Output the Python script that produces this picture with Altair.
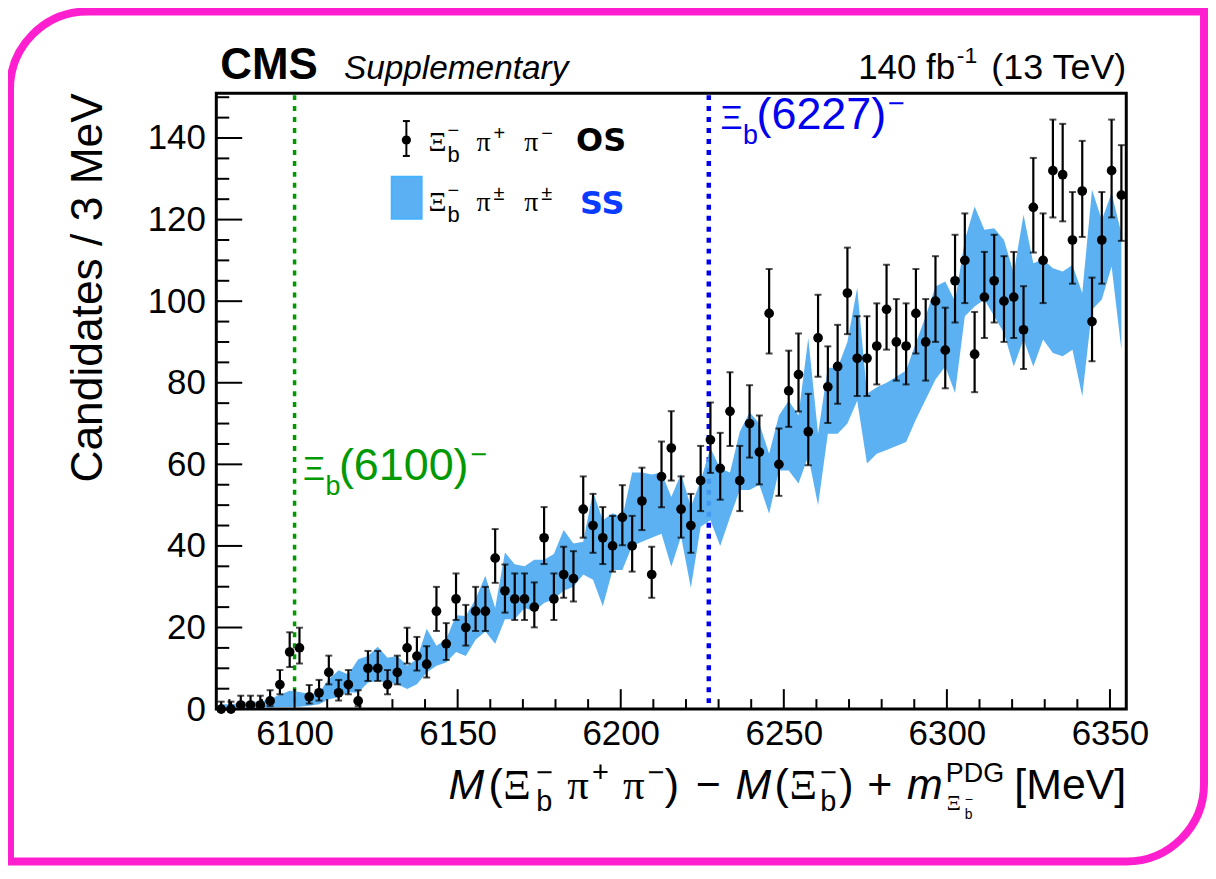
import math
import altair as alt
import pandas as pd

# ---------------- data ----------------
BIN_LO = 6076.0
BIN_W = 3.0

counts = [0, 0, 1, 1, 1, 2, 6, 14, 15, 3,
          4, 9, 4, 6, 2, 10, 10, 6, 9, 15,
          13, 11, 24, 16, 27, 20, 24, 24, 37, 29,
          27, 27, 25, 42, 27, 33, 32, 49, 45, 42,
          40, 47, 40, 51, 33, 57, 64, 49, 45, 56,
          66, 59, 73, 56, 70, 63, 97, 60, 78, 82,
          68, 91, 79, 84, 102, 86, 86, 89, 98, 90,
          89, 97, 90, 100, 88, 105, 110, 87, 101, 105,
          100, 101, 93, 123, 110, 132, 131, 115, 127, 95,
          115, 132, 126]

ss_low = [0, 0, 0.3, 0.3, 0.3, 0.4, 0.5, 0.5, 0.6, 0.8,
          1.2, 2.4, 2.9, 4.1, 4.0, 6.5, 6.9, 6.5, 6.1, 4.9,
          6.1, 9.0, 10.6, 11.4, 14, 13, 17, 19, 16, 22,
          22, 24.8, 24, 26, 27, 29, 30, 33, 31.7, 25.2,
          34.1, 34.1, 40, 41, 42, 43, 34.9, 42.3, 29.7, 44.7,
          46.3, 40, 47, 53.7, 53.7, 55, 47.9, 58.5, 58.5, 55.3,
          62, 50, 67.5, 67.5, 70, 75.6, 60.2, 62.6, 63.5, 64.5,
          65.5, 71, 75.9, 80.8, 84, 77.5, 96.3, 98.7, 100.4, 96.3,
          92.2, 84, 90.6, 84, 90.6, 87.3, 86.5, 88.1, 76.7, 97.9,
          100.4, 108.5, 88.1]

ss_high = [1.2, 1.2, 1.5, 1.8, 1.8, 2.5, 3.5, 4.5, 4.2, 3.7,
           4.0, 7.3, 9.5, 8.5, 12.2, 13.0, 15.3, 12.6, 13.0, 10.6,
           12.2, 19.7, 15.5, 17.1, 23, 22.8, 27, 32.7, 24.8, 38.4,
           35.5, 35, 36.6, 36.6, 38, 43.9, 40.6, 41, 53.3, 46.3,
           48, 47, 58, 58, 57.5, 58, 52, 57.7, 49.6, 56,
           64, 59, 58, 68, 72.8, 70, 62.6, 72, 75.6, 72,
           91, 67.5, 83.7, 83.7, 90, 103.3, 77.3, 78.9, 80, 81.5,
           83, 89.8, 96.3, 103.6, 104.8, 100, 115, 123.2, 117.5, 117.9,
           115, 106.9, 121.2, 109.3, 110.2, 108.1, 107.3, 108.9, 102, 127.3,
           119.9, 126.5, 116.6]

state_lines = [6100, 6227]
x_major = [6100, 6150, 6200, 6250, 6300, 6350]
x_minor = [6080, 6090, 6110, 6120, 6130, 6140, 6160, 6170, 6180, 6190,
           6210, 6220, 6230, 6240, 6260, 6270, 6280, 6290, 6310, 6320,
           6330, 6340]
y_major = [0, 20, 40, 60, 80, 100, 120, 140]
y_minor = [5, 10, 15, 25, 30, 35, 45, 50, 55, 65, 70, 75, 85, 90, 95,
           105, 110, 115, 125, 130, 135, 145, 150]


def garwood(n):
    hi = (n + 1) * (1 - 1 / (9 * (n + 1)) + 1 / (3 * math.sqrt(n + 1))) ** 3
    lo = 0.0 if n == 0 else n * (1 - 1 / (9 * n) - 1 / (3 * math.sqrt(n))) ** 3
    return lo, hi


xc = [BIN_LO + BIN_W * (i + 0.5) for i in range(len(counts))]
lo_hi = [garwood(n) for n in counts]
df = pd.DataFrame({
    "x": xc,
    "n": counts,
    "lo": [a for a, b in lo_hi],
    "hi": [b for a, b in lo_hi],
    "blo": ss_low,
    "bhi": ss_high,
})

# ---------------- style ----------------
W, H = 913, 618
SANS = "Liberation Sans"
SERIF = "Liberation Serif"
BAND = "#4aa8f2"
GREEN = "#009900"
BLUE = "#0000ee"
MAG = "#ff1fcf"

xs = alt.Scale(domain=[6076, 6355], nice=False, zero=False)
ys = alt.Scale(domain=[0, 151], nice=False, zero=False)
xa = alt.Axis(values=x_major, format="d", title=None, labelPadding=8)
ya = alt.Axis(values=y_major, format="d", title=None, labelPadding=11)
dummy = pd.DataFrame({"d": [0]})


def X(f):
    return alt.X(f, scale=xs, axis=xa)


def Y(f):
    return alt.Y(f, scale=ys, axis=ya)


def txt(s, x, y, size, color="black", font=SANS, style="normal", weight="normal",
        align="left", baseline="alphabetic", angle=0):
    return alt.Chart(dummy).mark_text(
        text=s, fontSize=size, color=color, font=font, fontStyle=style,
        fontWeight=weight, align=align, baseline=baseline, angle=angle,
    ).encode(x=alt.value(x), y=alt.value(y))


layers = []

# state lines (under band)
layers.append(alt.Chart(pd.DataFrame({"v": [state_lines[0]]})).mark_rule(
    color=GREEN, strokeWidth=3.5, strokeDash=[5, 6]).encode(
    x=X("v:Q"), y=alt.value(2), y2=alt.value(H)))
layers.append(alt.Chart(pd.DataFrame({"v": [state_lines[1]]})).mark_rule(
    color=BLUE, strokeWidth=4.5, strokeDash=[5, 6]).encode(
    x=X("v:Q"), y=alt.value(2), y2=alt.value(H)))

# SS band
layers.append(alt.Chart(df).mark_area(color=BAND, opacity=0.9, interpolate="linear").encode(
    x=X("x:Q"), y=Y("bhi:Q"), y2="blo:Q"))

# OS data points with error bars
layers.append(alt.Chart(df).mark_rule(color="black", strokeWidth=2.2).encode(
    x=X("x:Q"), y=Y("lo:Q"), y2="hi:Q"))
for col in ["lo", "hi"]:
    layers.append(alt.Chart(df).mark_tick(color="black", orient="horizontal", size=7,
                                          thickness=2).encode(
        x=X("x:Q"), y=Y(f"{col}:Q")))
layers.append(alt.Chart(df).mark_circle(color="black", size=95, opacity=1).encode(
    x=X("x:Q"), y=Y("n:Q")))

# inward ticks (ROOT style)
for vals, ln in [(x_major, 20), (x_minor, 10)]:
    layers.append(alt.Chart(pd.DataFrame({"v": vals})).mark_rule(color="black", strokeWidth=2).encode(
        x=X("v:Q"), y=alt.value(H), y2=alt.value(H - ln)))
for vals, ln in [(y_major, 26), (y_minor, 13)]:
    layers.append(alt.Chart(pd.DataFrame({"v": vals})).mark_rule(color="black", strokeWidth=2).encode(
        y=Y("v:Q"), x=alt.value(0), x2=alt.value(ln)))

# header
layers.append(txt("CMS", 4, -14, 44, weight="bold"))
layers.append(txt("Supplementary", 128, -14, 33.5, style="italic"))
layers.append(txt("140 fb", 644, -14, 35))
layers.append(txt("-1", 743, -30, 23))
layers.append(txt("(13 TeV)", W, -14, 36, align="right"))

# axis titles
layers.append(txt("Candidates / 3 MeV", -115, 0, 44.5, angle=270, align="right"))
XB = 708
xt = [
    ("M", 233, XB, 43, SANS, "italic"),
    ("(", 273, XB, 43, SANS, "normal"),
    ("\u039e", 288, XB, 43, SERIF, "normal"),
    ("b", 321, XB + 12, 29, SANS, "normal"),
    ("\u03c0", 352, XB, 43, SERIF, "normal"),
    ("\u03c0", 408, XB, 43, SERIF, "normal"),
    (")", 450, XB, 43, SANS, "normal"),
    ("\u2212", 481, XB, 43, SANS, "normal"),
    ("M", 521, XB, 43, SANS, "italic"),
    ("(", 560, XB, 43, SANS, "normal"),
    ("\u039e", 575, XB, 43, SERIF, "normal"),
    ("b", 606, XB + 12, 29, SANS, "normal"),
    (")", 625, XB, 43, SANS, "normal"),
    ("+", 653, XB, 43, SANS, "normal"),
    ("m", 693, XB, 43, SANS, "italic"),
    ("PDG", 732, XB - 17, 27, SANS, "normal"),
    ("\u039e", 733, XB + 11, 22, SERIF, "normal"),
    ("b", 751, XB + 20, 14, SANS, "normal"),
    ("[MeV]", W, XB, 43, SANS, "normal"),
]
for s, x, y, size, font, style in xt:
    al = "right" if s == "[MeV]" else "left"
    layers.append(txt(s, x, y, size, font=font, style=style, align=al))
for s, x in [("\u2212", 321), ("+", 377), ("\u2212", 433), ("\u2212", 606)]:
    layers.append(txt(s, x, XB - 26, 29, baseline="middle"))
layers.append(txt("\u2212", 751, XB + 1, 14, baseline="middle"))


# state labels
def state_label(x0, yb, name, color):
    return [txt("\u039e", x0, yb, 34, color=color),
            txt("b", x0 + 22.5, yb + 15, 27, color=color),
            txt(name, x0 + 36, yb, 45, color=color),
            txt("\u2212", x0 + 168, yb - 25, 29, color=color, baseline="middle")]


layers += state_label(87, 388, "(6100)", GREEN)
layers += state_label(506, 36, "(6227)", BLUE)

# legend
layers.append(alt.Chart(dummy).mark_rule(color="black", strokeWidth=2).encode(
    x=alt.value(190.7), y=alt.value(28), y2=alt.value(63)))
for yy in [28, 63]:
    layers.append(alt.Chart(dummy).mark_rule(color="black", strokeWidth=2).encode(
        x=alt.value(187.2), x2=alt.value(194.2), y=alt.value(yy)))
layers.append(alt.Chart(dummy).mark_circle(color="black", size=85, opacity=1).encode(
    x=alt.value(190.7), y=alt.value(47)))
layers.append(alt.Chart(dummy).mark_rect(color=BAND, opacity=0.9, stroke="#33aaff",
                                          strokeWidth=2).encode(
    x=alt.value(176), x2=alt.value(206), y=alt.value(84), y2=alt.value(126)))

for yb, sup, lab, lcol in [(58, ["+", "\u2212"], "OS", "black"),
                           (118, ["\u00b1", "\u00b1"], "SS", "#0a3cff")]:
    layers.append(txt("\u039e", 213, yb, 28, font=SERIF))
    layers.append(txt("\u2212", 232, yb - 20, 20, baseline="middle"))
    layers.append(txt("b", 232, yb + 11, 22))
    layers.append(txt("\u03c0", 261, yb, 28, font=SERIF))
    layers.append(txt(sup[0], 278, yb - 17, 20, baseline="middle"))
    layers.append(txt("\u03c0", 309, yb, 28, font=SERIF))
    layers.append(txt(sup[1], 326, yb - 17, 20, baseline="middle"))
    layers.append(txt(lab, 361 if lab == "OS" else 365, yb + (0 if lab == "OS" else 3), 32,
                      color=lcol, font="DejaVu Sans", weight="bold"))

# magenta frame
layers.append(alt.Chart(dummy).mark_rect(fillOpacity=0, stroke=MAG, strokeWidth=8,
                                          cornerRadiusTopLeft=78,
                                          cornerRadiusBottomRight=78).encode(
    x=alt.value(-207), x2=alt.value(991), y=alt.value(-82), y2=alt.value(771)))

chart = alt.layer(*layers).properties(
    width=W, height=H,
    padding={"left": 209, "top": 84, "right": 82, "bottom": 156},
    autosize=alt.AutoSizeParams(type="none"),
).configure_view(stroke="black", strokeWidth=3).configure_axis(
    ticks=False, domain=False, grid=False, labelFont=SANS, labelFontSize=35,
    labelColor="black", labelOverlap=False, labelBound=False, labelFlush=False,
)

chart.save("out.html", embed_options={"renderer": "svg", "actions": False})
